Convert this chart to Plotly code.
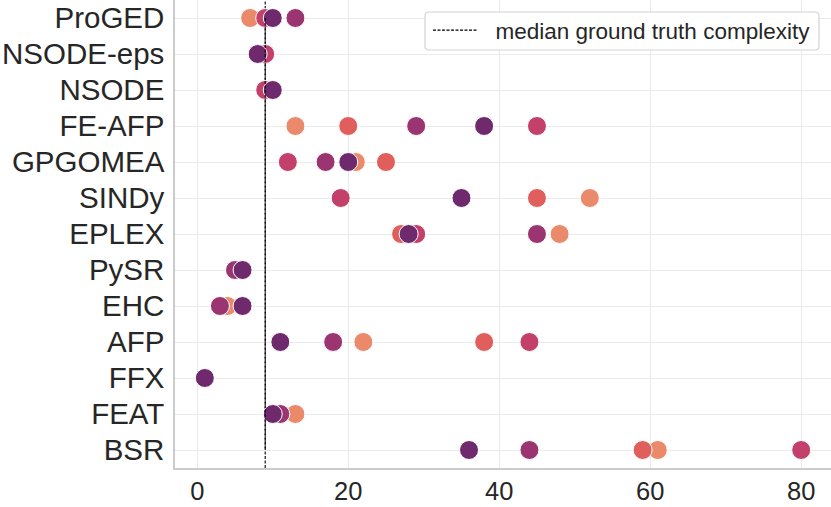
import plotly.graph_objects as go

categories = ["ProGED", "NSODE-eps", "NSODE", "FE-AFP", "GPGOMEA", "SINDy", "EPLEX",
              "PySR", "EHC", "AFP", "FFX", "FEAT", "BSR"]

# complexity per algorithm for each hue level (None = no visible point)
level_1 = [7, None, None, 13, 21, 52, 48, None, 4, 22, None, 13, 61]
level_2 = [None, None, None, 20, 25, 45, 27, None, None, 38, None, None, 59]
level_3 = [9, 9, 9, 45, 12, 19, 29, None, None, 44, None, None, 80]
level_4 = [13, None, None, 29, 17, None, 45, 5, 3, 18, None, 11, 44]
level_5 = [10, 8, 10, 38, 20, 35, 28, 6, 6, 11, 1, 10, 36]

level_names = ["level 1", "level 2", "level 3", "level 4", "level 5"]
level_colors = ["#EA8A6B", "#E05F5D", "#C3406A", "#9B3572", "#6F2A6E"]

median_complexity = 9
median_label = "median ground truth complexity"

fig = go.Figure()

for name, vals, col in zip(level_names, [level_1, level_2, level_3, level_4, level_5], level_colors):
    xs = [v for v in vals if v is not None]
    ys = [c for c, v in zip(categories, vals) if v is not None]
    fig.add_trace(go.Scatter(
        x=xs, y=ys, mode="markers", name=name, showlegend=False,
        marker=dict(size=19, color=col, line=dict(color="white", width=1)),
    ))

fig.add_trace(go.Scatter(
    x=[median_complexity, median_complexity], y=[categories[0], categories[-1]],
    mode="lines", name="\u00a0\u00a0" + median_label,
    line=dict(color="black", width=1.1, dash="3px,1.5px"),
    showlegend=True,
))
fig.add_shape(type="line", xref="x", yref="paper", x0=median_complexity, x1=median_complexity,
              y0=0, y1=1, line=dict(color="black", width=1.1, dash="3px,1.5px"), layer="below")

# legend frame (rounded box) in paper coords; plot area is 656 x 468 px
PW, PH = 656.0, 468.0
bx0, bx1 = (425 - 175) / PW, (819 - 175) / PW
by1, by0 = 1 - 12 / PH, 1 - 50 / PH
rx, ry = 4 / PW, 4 / PH
path = (f"M {bx0+rx},{by1} L {bx1-rx},{by1} Q {bx1},{by1} {bx1},{by1-ry} "
        f"L {bx1},{by0+ry} Q {bx1},{by0} {bx1-rx},{by0} L {bx0+rx},{by0} "
        f"Q {bx0},{by0} {bx0},{by0+ry} L {bx0},{by1-ry} Q {bx0},{by1} {bx0+rx},{by1} Z")
fig.add_shape(type="path", xref="paper", yref="paper", path=path,
              fillcolor="white", line=dict(color="#D3D3D3", width=1.2), layer="above")

fig.update_layout(
    width=831, height=507,
    margin=dict(l=175, r=0, t=0, b=39, autoexpand=False),
    plot_bgcolor="white", paper_bgcolor="white",
    font=dict(family="Liberation Sans, Arial, sans-serif", color="#262626"),
    legend=dict(
        x=(428 - 175) / PW, xanchor="left", y=1 - 9 / PH, yanchor="top",
        bgcolor="rgba(0,0,0,0)", borderwidth=0,
        font=dict(size=22.5, color="#262626"),
        itemwidth=45,
    ),
)

fig.update_xaxes(
    range=[-2.95, 83.95], tickvals=[0, 20, 40, 60, 80],
    showgrid=True, gridcolor="#EBEBEB", gridwidth=1,
    showline=True, linecolor="#CCCCCC", linewidth=1.5,
    zeroline=False, ticks="", tickfont=dict(size=25.5),
    ticklabelstandoff=0, automargin=False,
)
fig.update_yaxes(
    type="category", categoryorder="array", categoryarray=categories,
    range=[12.5, -0.5],
    showgrid=True, gridcolor="#EBEBEB", gridwidth=1,
    showline=True, linecolor="#CCCCCC", linewidth=1.5,
    zeroline=False, ticks="", tickfont=dict(size=29.5),
    ticklabelstandoff=3, automargin=False,
)

fig.write_html("out.html", config={"displayModeBar": False},
               post_script="document.body.style.margin='0';")
